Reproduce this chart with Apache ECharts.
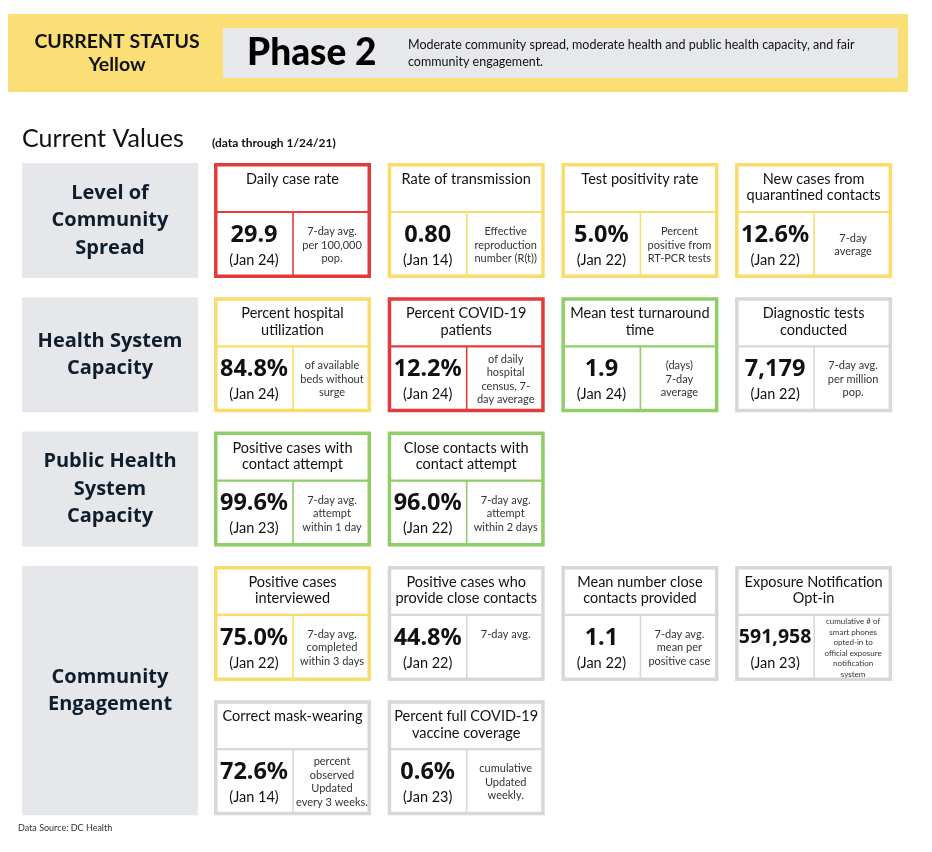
<!DOCTYPE html>
<html>
<head>
<meta charset="utf-8">
<script src="https://cdn.jsdelivr.net/npm/echarts@6.0.0/dist/echarts.min.js"></script>
<style>
  html, body { margin: 0; padding: 0; background: #fff; }
  #chart_main { width: 932px; height: 852px; }
</style>
</head>
<body>
<div id="chart_main"></div>
<script>
// status banner
const statusLabel = 'CURRENT STATUS\nYellow';
const phaseLabel = 'Phase 2';
const phaseNote = 'Moderate community spread, moderate health and public health capacity, and fair\ncommunity engagement.';
const sectionTitle = 'Current Values';
const sectionNote = '(data through 1/24/21)';
const sourceNote = 'Data Source: DC Health';

// groups (left gray boxes) and how many card lines each one holds
const groups = ['Level of\nCommunity\nSpread', 'Health System\nCapacity', 'Public Health\nSystem\nCapacity', 'Community\nEngagement'];
const groupLines = [1, 1, 1, 2];

// metric cards
const metricGroup = [0, 0, 0, 0, 1, 1, 1, 1, 2, 2, 3, 3, 3, 3, 3, 3];
const metricTitles = [
    'Daily case rate', 'Rate of transmission', 'Test positivity rate', 'New cases from\nquarantined contacts',
    'Percent hospital\nutilization', 'Percent COVID-19\npatients', 'Mean test turnaround\ntime', 'Diagnostic tests\nconducted',
    'Positive cases with\ncontact attempt', 'Close contacts with\ncontact attempt',
    'Positive cases\ninterviewed', 'Positive cases who\nprovide close contacts', 'Mean number close\ncontacts provided', 'Exposure Notification\nOpt-in',
    'Correct mask-wearing', 'Percent full COVID-19\nvaccine coverage'
];
const metricValues = ['29.9', '0.80', '5.0%', '12.6%', '84.8%', '12.2%', '1.9', '7,179', '99.6%', '96.0%', '75.0%', '44.8%', '1.1', '591,958', '72.6%', '0.6%'];
const metricDates = ['Jan 24', 'Jan 14', 'Jan 22', 'Jan 22', 'Jan 24', 'Jan 24', 'Jan 24', 'Jan 22', 'Jan 23', 'Jan 22', 'Jan 22', 'Jan 22', 'Jan 22', 'Jan 23', 'Jan 14', 'Jan 23'];
const metricNotes = [
    '7-day avg.\nper 100,000\npop.', 'Effective\nreproduction\nnumber (R(t))', 'Percent\npositive from\nRT-PCR tests', '7-day\naverage',
    'of available\nbeds without\nsurge', 'of daily\nhospital\ncensus, 7-\nday average', '(days)\n7-day\naverage', '7-day avg.\nper million\npop.',
    '7-day avg.\nattempt\nwithin 1 day', '7-day avg.\nattempt\nwithin 2 days',
    '7-day avg.\ncompleted\nwithin 3 days', '7-day avg.\n\n', '7-day avg.\nmean per\npositive case', 'cumulative # of\nsmart phones\nopted-in to\nofficial exposure\nnotification\nsystem',
    'percent\nobserved\nUpdated\nevery 3 weeks.', 'cumulative\nUpdated\nweekly.'
];
const metricStatus = ['red', 'yellow', 'yellow', 'yellow', 'yellow', 'red', 'green', 'none', 'green', 'green', 'yellow', 'none', 'none', 'none', 'none', 'none'];

const statusColors = {red: '#e23b3b', yellow: '#fadc6b', green: '#8fcd66', none: '#d7d7d7'};
const FONT = 'Lato, "Noto Sans", sans-serif';
const HEAD = '"Open Sans", "Noto Sans", sans-serif';
const NUM = '"Noto Sans", "Open Sans", sans-serif';

let myChart = echarts.init(document.getElementById('chart_main'));

function txt(x, y, text, opt) {
    return {
        type: 'text', x: x, y: y, silent: true,
        style: Object.assign({
            text: text, fill: '#111', fontFamily: FONT, fontSize: 12,
            align: 'center', verticalAlign: 'middle'
        }, opt || {})
    };
}

function buildGraphic() {
    let els = [];
    // banner
    els.push({type: 'rect', shape: {x: 8, y: 14, width: 900, height: 78}, style: {fill: '#f9df75'}});
    els.push({type: 'rect', shape: {x: 223, y: 28, width: 675, height: 50}, style: {fill: '#e7e8ec'}});
    els.push(txt(117, 53, statusLabel, {fontSize: 19.5, fontWeight: 'bold', lineHeight: 23, fill: '#111'}));
    els.push(txt(247, 53, phaseLabel, {fontSize: 37, fontWeight: 900, align: 'left', fill: '#000'}));
    els.push(txt(408, 53, phaseNote, {fontSize: 12.5, align: 'left', lineHeight: 17, fill: '#111'}));
    // section heading
    els.push(txt(22, 139, sectionTitle, {fontSize: 25, align: 'left', fill: '#111'}));
    els.push(txt(212, 143, sectionNote, {fontSize: 12, fontWeight: 'bold', align: 'left', fill: '#111'}));

    const colX = 214, colStep = 173.7, cardW = 157, cardH = 115;
    const rowY = 163, rowStep = 134.3;
    let lineStart = [];
    let line = 0;
    groups.forEach(function (g, i) {
        lineStart.push(line);
        let top = rowY + rowStep * line;
        let bottom = rowY + rowStep * (line + groupLines[i] - 1) + cardH;
        els.push({type: 'rect', shape: {x: 22, y: top, width: 176, height: bottom - top}, style: {fill: '#e6e7eb'}});
        els.push(txt(110, (top + bottom) / 2, g, {fontSize: 20, fontWeight: 'bold', fontFamily: HEAD, lineHeight: 27.5, fill: '#0f1d2c'}));
        line += groupLines[i];
    });

    let slot = {};
    metricTitles.forEach(function (t, i) {
        let g = metricGroup[i];
        let k = slot[g] || 0;
        slot[g] = k + 1;
        let x = colX + colStep * (k % 4);
        let y = rowY + rowStep * (lineStart[g] + Math.floor(k / 4));
        let c = statusColors[metricStatus[i]];
        els.push({type: 'rect', shape: {x: x + 1.75, y: y + 1.75, width: cardW - 3.5, height: cardH - 3.5}, style: {fill: '#fff', stroke: c, lineWidth: 3.5}});
        els.push({type: 'line', shape: {x1: x + 3, y1: y + 49, x2: x + cardW - 3, y2: y + 49}, style: {stroke: c, lineWidth: 2.2}});
        els.push({type: 'line', shape: {x1: x + 79, y1: y + 49, x2: x + 79, y2: y + cardH - 3}, style: {stroke: c, lineWidth: 1.6}});
        els.push(txt(x + cardW / 2, y + 8, t, {fontSize: 14.5, lineHeight: 16.5, verticalAlign: 'top', fill: '#111'}));
        let vs = metricValues[i].length > 6 ? 19.5 : 23.5;
        els.push(txt(x + 40, y + 72, metricValues[i], {fontSize: vs, fontWeight: 'bold', fontFamily: NUM, fill: '#111'}));
        els.push(txt(x + 40, y + 97, '(' + metricDates[i] + ')', {fontSize: 14.5, fill: '#111'}));
        let nLines = metricNotes[i].split('\n').length;
        let ns = nLines > 4 ? 8 : 11;
        els.push(txt(x + 118, y + 82, metricNotes[i], {fontSize: ns, lineHeight: nLines > 4 ? 10.5 : 13.5, fill: '#333'}));
    });

    els.push(txt(18, 828, sourceNote, {fontSize: 9, align: 'left', fill: '#333'}));
    return els;
}

let option = {
    backgroundColor: '#fff',
    animation: false,
    graphic: {elements: buildGraphic()}
};
myChart.setOption(option);
</script>
</body>
</html>
